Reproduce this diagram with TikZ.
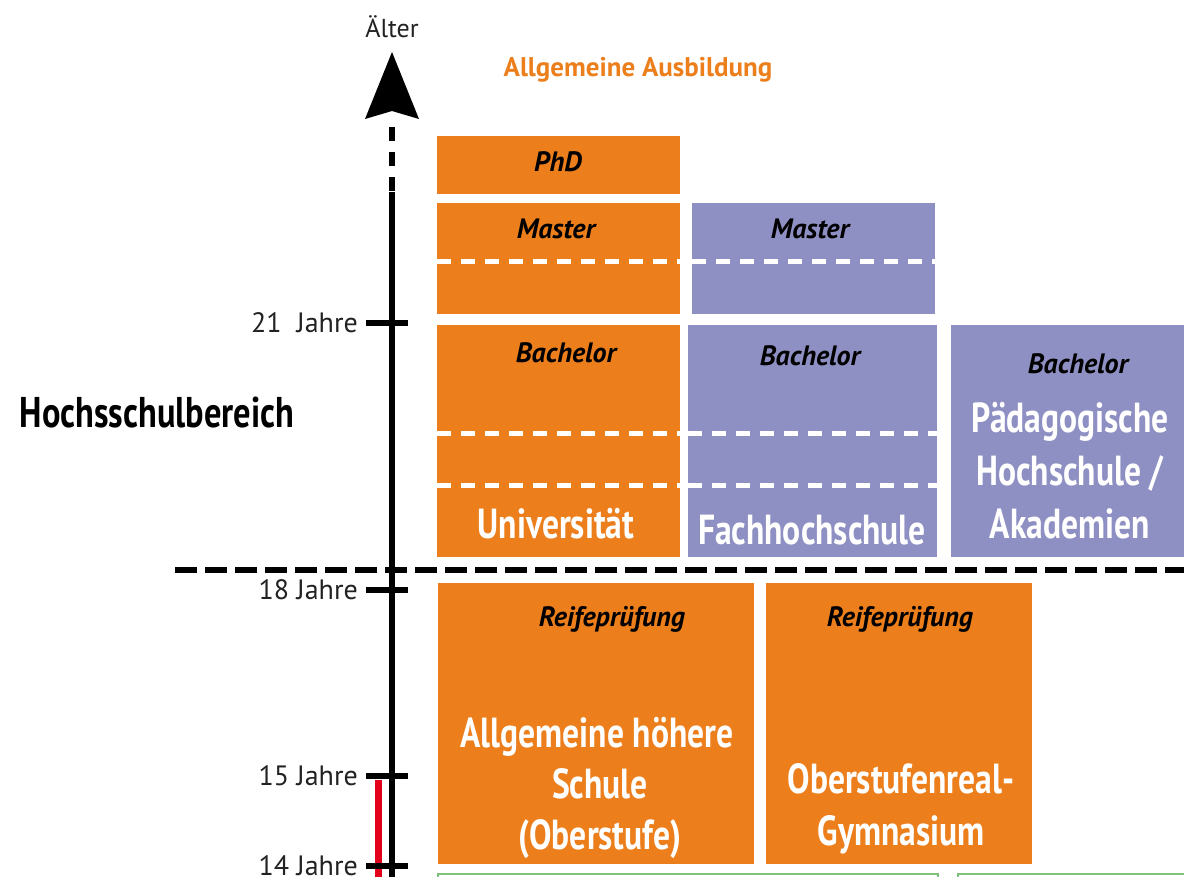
\documentclass[tikz,border=0pt]{standalone}
\usepackage{fontspec}
\setmainfont{PT Sans}
\newfontfamily\narrowfont{PT Sans}[FakeStretch=0.8]
\usetikzlibrary{positioning}

\definecolor{uniorange}{HTML}{EC7F1C}
\definecolor{fhlilac}{HTML}{8E8FC2}
\definecolor{agered}{HTML}{E2001A}
\definecolor{schoolgreen}{HTML}{7CC27C}
\definecolor{inkgrey}{HTML}{222222}

\tikzset{
  stage/.style={draw=none, inner sep=0pt, anchor=north west},
  uni/.style={stage, fill=uniorange},
  fh/.style={stage, fill=fhlilac},
  degree/.style={anchor=base, inner sep=0pt, text=black,
    font=\fontsize{28}{32}\selectfont\bfseries\itshape},
  school/.style={anchor=base, inner sep=0pt, text=white,
    font=\narrowfont\fontsize{42}{50}\selectfont\bfseries},
  age/.style={anchor=base east, inner sep=0pt, text=inkgrey,
    font=\fontsize{28}{30}\selectfont},
  semester/.style={white, line width=5pt, dash pattern=on 14pt off 10pt},
  agetick/.style={black, line width=6pt},
}

\begin{document}
\begin{tikzpicture}[x=1pt, y=-1pt]
	\useasboundingbox (0,0) rectangle (1184,876);
	\clip (0,0) rectangle (1184,876);

	% Hochschule
	\node[uni, minimum width=243pt, minimum height=58pt] (phd) at (437,136) {};
	\node[uni, minimum width=243pt, minimum height=111pt] (unimaster) at (437,203) {};
	\node[fh, minimum width=243pt, minimum height=111pt] (fhmaster) at (692,203) {};
	\node[uni, minimum width=243pt, minimum height=232pt] (unibach) at (437,325) {};
	\node[fh, minimum width=249pt, minimum height=232pt] (fhbach) at (688,325) {};
	\node[fh, minimum width=250pt, minimum height=232pt] (phbach) at (951,325) {};

	\draw[semester] (437,261) -- (680,261);
	\draw[semester] (692,261) -- (935,261);
	\foreach \y in {433,485} {
		\draw[semester] (437,\y) -- (680,\y);
		\draw[semester] (688,\y) -- (937,\y);
	}

	\node[degree] (phdlbl) at (558,171) {PhD};
	\node[degree] (unimasterlbl) at (556,238) {Master};
	\node[degree] (fhmasterlbl) at (810,238) {Master};
	\node[degree] (unibachlbl) at (566,362) {Bachelor};
	\node[degree] (fhbachlbl) at (810,365) {Bachelor};
	\node[degree] (phbachlbl) at (1078,373) {Bachelor};

	\node[school] (unilbl) at (556,538) {Universität};
	\node[school] (fhlbl) at (812,544) {Fachhochschule};
	\node[school] (ph1) at (1070,432) {Pädagogische};
	\node[school] (ph2) at (1070,485) {Hochschule /};
	\node[school] (ph3) at (1070,538) {Akademien};

	% Oberstufe
	\node[uni, minimum width=316pt, minimum height=281pt] (ahs) at (438,583) {};
	\node[uni, minimum width=266pt, minimum height=281pt] (org) at (766,583) {};
	\node[stage, draw=schoolgreen, line width=2pt, minimum width=500pt, minimum height=40pt] (mittel) at (437,873) {};
	\node[stage, draw=schoolgreen, line width=2pt, minimum width=260pt, minimum height=40pt] (poly) at (957,873) {};

	\node[degree] (ahsreife) at (612,626) {Reifeprüfung};
	\node[degree] (orgreife) at (900,626) {Reifeprüfung};
	\node[school] (ahs1) at (597,747) {Allgemeine höhere};
	\node[school] (ahs2) at (600,798) {Schule};
	\node[school] (ahs3) at (600,849) {(Oberstufe)};
	\node[school] (org1) at (901,793) {Oberstufenreal-};
	\node[school] (org2) at (901,845) {Gymnasium};

	% Altersachse
	\coordinate (tip) at (392,52);
	\coordinate (notch) at (392,111);
	\coordinate (dashstart) at (392,127);
	\coordinate (solidstart) at (392,192);
	\coordinate (foot) at (392,880);
	\fill[black] (tip) -- (419,119) -- (notch) -- (365,119) -- cycle;
	\draw[black, line width=6pt, dash pattern=on 14pt off 11pt] (dashstart) -- (solidstart);
	\draw[black, line width=6pt] (solidstart) -- (foot);
	\draw[agered, line width=7pt] (378,780) -- (378,880);

	\foreach \y/\a in {323/21\ \ Jahre, 590/18 Jahre, 776/15 Jahre, 866/14 Jahre} {
		\draw[agetick] (366,\y) -- (408,\y);
		\node[age] at (358,{\y+9}) {\a};
	}

	\draw[black, line width=6pt, dash pattern=on 22pt off 8pt] (175,570) -- (1184,570);

	\node[anchor=base, inner sep=0pt, text=inkgrey, font=\fontsize{26}{30}\selectfont] (aelter) at (392,37) {Älter};
	\node[anchor=base, inner sep=0pt, text=uniorange, font=\fontsize{27}{30}\selectfont\bfseries] (allg) at (638,76) {Allgemeine Ausbildung};
	\node[anchor=base, inner sep=0pt, text=black, font=\narrowfont\fontsize{43}{50}\selectfont\bfseries] (hsb) at (157,427) {Hochsschulbereich};
\end{tikzpicture}
\end{document}
